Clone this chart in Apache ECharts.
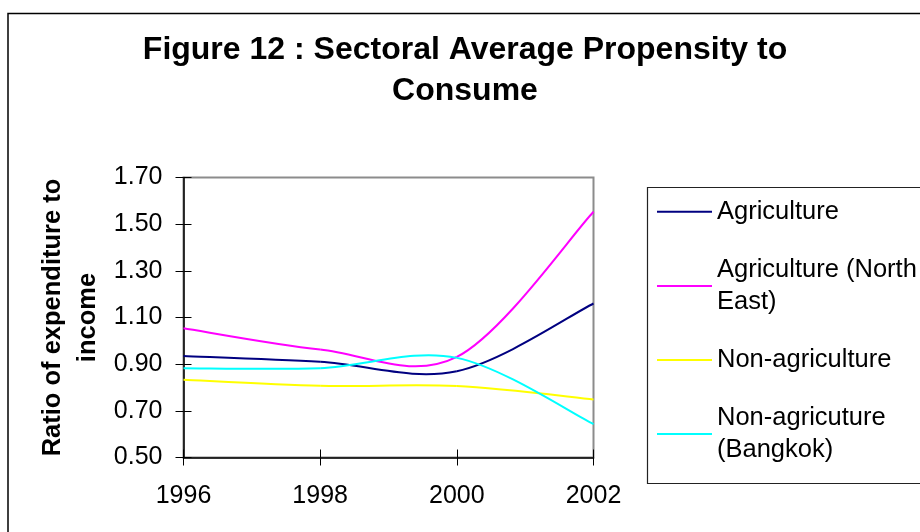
<!DOCTYPE html>
<html>
<head>
<meta charset="utf-8">
<script src="https://cdn.jsdelivr.net/npm/echarts@6/dist/echarts.min.js"></script>
<style>
  html, body { margin: 0; padding: 0; background: #fff; }
  #chart { width: 920px; height: 532px; }
</style>
</head>
<body>
<div id="chart"></div>
<script>
// Survey years and average propensity to consume (expenditure / income) by sector
const years = ['1996', '1998', '2000', '2002'];
const agriculture = [0.935, 0.910, 0.870, 1.160];
const agricultureNorthEast = [1.054, 0.963, 0.931, 1.553];
const nonAgriculture = [0.833, 0.807, 0.806, 0.749];
const nonAgricultureBangkok = [0.883, 0.883, 0.927, 0.643];

const seriesNames = ['Agriculture', 'Agriculture (North East)', 'Non-agriculture', 'Non-agricuture (Bangkok)'];
const legendLabels = ['Agriculture', 'Agriculture (North\nEast)', 'Non-agriculture', 'Non-agricuture\n(Bangkok)'];
const seriesValues = [agriculture, agricultureNorthEast, nonAgriculture, nonAgricultureBangkok];
const seriesColors = ['#000080', '#FF00FF', '#FFFF00', '#00FFFF'];

const FONT = '"Liberation Sans", Arial, Helvetica, sans-serif';

// Smoothed line: one cubic Bezier per interval, control points taken from the
// neighbouring points (Catmull-Rom style, 1/6 of the chord through the neighbours).
function smoothSegment(params, api) {
  const i = params.dataIndexInside;
  const n = params.dataInsideLength;
  if (i >= n - 1) return null;
  const at = k => api.coord([api.value(0, k), api.value(1, k)]);
  const p0 = at(Math.max(i - 1, 0));
  const p1 = at(i);
  const p2 = at(i + 1);
  const p3 = at(Math.min(i + 2, n - 1));
  return {
    type: 'bezierCurve',
    shape: {
      x1: p1[0], y1: p1[1], x2: p2[0], y2: p2[1],
      cpx1: p1[0] + (p2[0] - p0[0]) / 6, cpy1: p1[1] + (p2[1] - p0[1]) / 6,
      cpx2: p2[0] - (p3[0] - p1[0]) / 6, cpy2: p2[1] - (p3[1] - p1[1]) / 6
    },
    style: { stroke: api.visual('color'), lineWidth: 2, fill: 'none' }
  };
}

// Legend: one box per entry so that the swatch sits beside the first text line
const LEGEND_LINE = 31.7;
const legendSwatchY = [211.7, 286, 360, 434];
const legends = seriesNames.map((name, k) => {
  const lines = legendLabels[k].split('\n').length;
  const pad = lines > 1 ? [LEGEND_LINE - 6.8, 0, 0, 0] : [0, 0, 6.8, 0];
  const boxH = pad[0] + pad[2] + lines * LEGEND_LINE;
  return {
    orient: 'vertical',
    left: 657,
    top: legendSwatchY[k] - boxH / 2,
    padding: 0,
    itemWidth: 55,
    itemHeight: 2,
    icon: 'rect',
    selectedMode: false,
    data: [name],
    formatter: () => legendLabels[k],
    textStyle: {
      color: '#000', fontFamily: FONT, fontSize: 25.5,
      lineHeight: LEGEND_LINE, padding: pad
    }
  };
});

const chart = echarts.init(document.getElementById('chart'), null, { renderer: 'canvas' });

const axisBlack = { lineStyle: { color: '#000', width: 1.5 } };

chart.setOption({
  animation: false,
  backgroundColor: '#fff',
  title: {
    text: 'Figure 12 : Sectoral Average Propensity to\nConsume',
    left: 465,
    top: 29.5,
    padding: 0,
    textAlign: 'center',
    textStyle: {
      color: '#000', fontFamily: FONT, fontSize: 32, fontWeight: 'bold', lineHeight: 41
    }
  },
  legend: legends,
  grid: {
    left: 183.5, right: 326.5, top: 177.5, bottom: 74.5,
    show: true, borderColor: '#8c8c8c', borderWidth: 2, backgroundColor: 'transparent'
  },
  xAxis: [
    {
      type: 'category', data: years, boundaryGap: false,
      axisLine: axisBlack,
      axisTick: { show: true, inside: false, length: 8, lineStyle: { color: '#000', width: 1 } },
      axisLabel: { color: '#000', fontFamily: FONT, fontSize: 25, margin: 26 },
      splitLine: { show: false }
    },
    {
      type: 'category', data: years, boundaryGap: false, position: 'bottom',
      axisLine: { show: false },
      axisTick: { show: true, inside: true, length: 8, lineStyle: { color: '#000', width: 1 } },
      axisLabel: { show: false },
      splitLine: { show: false }
    }
  ],
  yAxis: [
    {
      type: 'value', min: 0.5, max: 1.7, interval: 0.2,
      name: 'Ratio of expenditure to\nincome',
      nameLocation: 'middle', nameRotate: 90, nameGap: 78,
      nameTextStyle: { color: '#000', fontFamily: FONT, fontSize: 25.5, fontWeight: 'bold', lineHeight: 35 },
      axisLine: { show: true, ...axisBlack },
      axisTick: { show: true, inside: false, length: 8, lineStyle: { color: '#000', width: 1 } },
      axisLabel: { color: '#000', fontFamily: FONT, fontSize: 25, margin: 21, formatter: v => v.toFixed(2) },
      splitLine: { show: false }
    },
    {
      type: 'value', min: 0.5, max: 1.7, interval: 0.2, position: 'left',
      axisLine: { show: false },
      axisTick: { show: true, inside: true, length: 8, lineStyle: { color: '#000', width: 1 } },
      axisLabel: { show: false },
      splitLine: { show: false }
    }
  ],
  series: seriesNames.map((name, k) => ({
    type: 'custom',
    name: name,
    xAxisIndex: 0,
    yAxisIndex: 0,
    coordinateSystem: 'cartesian2d',
    encode: { x: 0, y: 1 },
    data: years.map((yr, j) => [yr, seriesValues[k][j]]),
    itemStyle: { color: seriesColors[k] },
    renderItem: smoothSegment,
    z: 3
  })),
  graphic: [
    {
      // chart frame
      type: 'rect', silent: true, z: 0,
      shape: { x: 8, y: 13.5, width: 1000, height: 1000 },
      style: { fill: 'none', stroke: '#000', lineWidth: 1.5 }
    },
    {
      // legend frame
      type: 'rect', silent: true, z: 0,
      shape: { x: 647.5, y: 187.5, width: 400, height: 296 },
      style: { fill: 'none', stroke: '#222', lineWidth: 1.2 }
    }
  ]
});
</script>
</body>
</html>
